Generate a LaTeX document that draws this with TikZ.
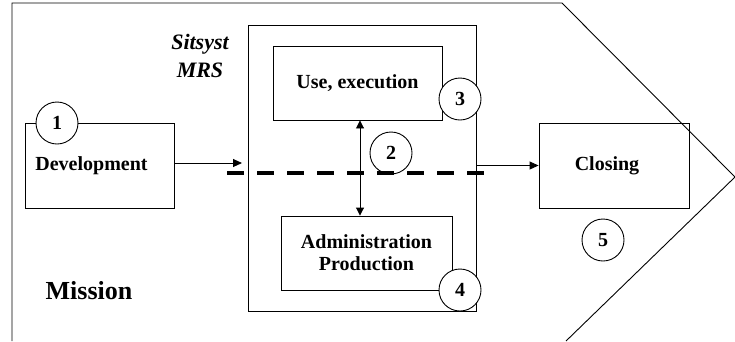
\documentclass[tikz,border=0pt]{standalone}
\usepackage{fontspec}
\setmainfont{Liberation Serif}
\usetikzlibrary{arrows.meta}

\tikzset{
  box/.style={draw, rectangle, line width=0.9pt, inner sep=0pt, align=center,
    font=\bfseries\fontsize{20}{22}\selectfont},
  num/.style={draw, circle, fill=white, line width=0.9pt, minimum size=42pt,
    inner sep=0pt, font=\bfseries\fontsize{20}{22}\selectfont},
  arr/.style={line width=0.9pt, -{Triangle[length=9pt,width=8pt]}},
  twoarr/.style={line width=0.9pt, {Triangle[length=8pt,width=8pt]}-{Triangle[length=8pt,width=8pt]}}
}

\begin{document}
\begin{tikzpicture}[x=1pt,y=-1pt]
    \useasboundingbox (0,0) rectangle (735,341);

    % Outer mission shape
    \draw [line width=0.9pt] (12,341) -- (12,3) -- (562,3) -- (735,177) -- (566,341);

    % Boxes
    \node [box, minimum width=149pt, minimum height=85pt,
      label={[xshift=-8pt, font=\bfseries\fontsize{20}{22}\selectfont]center:Development}] (Dev) at (99.5,165.5) {};
    \node [box, minimum width=228pt, minimum height=286pt] (MRS) at (362,168) {};
    \node [box, minimum width=169pt, minimum height=74pt] (Use) at (357.5,83) {Use, execution};
    \node [box, minimum width=171pt, minimum height=74pt] (Adm) at (366.5,253) {Administration\\Production};
    \node [box, minimum width=150pt, minimum height=85pt,
      label={[xshift=-7pt, font=\bfseries\fontsize{20}{22}\selectfont]center:Closing}] (Clo) at (614,165.5) {};

    % Labels
    \node [align=center, inner sep=0pt,
      font=\bfseries\itshape\fontsize{22}{28}\selectfont] (Sit) at (200,56) {Sitsyst\\MRS};
    \node [anchor=base, inner sep=0pt, font=\bfseries\fontsize{26}{28}\selectfont] (Mis) at (89,299) {Mission};

    % Numbers
    \node [num] (n1) at (57,123) {1};
    \node [num] (n2) at (391,153) {2};
    \node [num] (n3) at (460,99) {3};
    \node [num] (n4) at (460,290) {4};
    \node [num] (n5) at (603,240) {5};

    % Arrows
    \coordinate (devend) at (242,163);
    \draw [arr] ([yshift=2.5pt]Dev.east) -- (devend);
    \draw [arr] (MRS.east |- Clo.west) -- (Clo.west);
    \draw [twoarr] ([xshift=2.5pt]Use.south) -- ([xshift=-6.5pt]Adm.north);

    % Dashed border line
    \coordinate (dashL) at (227,173);
    \coordinate (dashR) at (484,173);
    \draw [line width=4.5pt, dash pattern=on 17pt off 13pt] (dashL) -- (dashR);

\end{tikzpicture}
\end{document}
